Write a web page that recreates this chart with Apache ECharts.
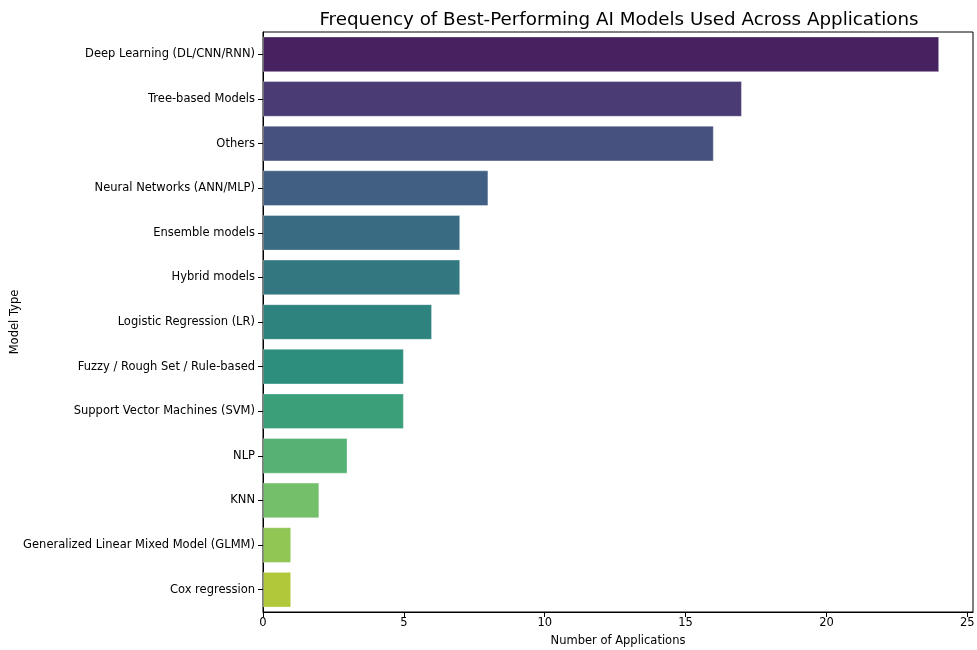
<!DOCTYPE html>
<html>
<head>
<meta charset="utf-8">
<script src="https://cdn.jsdelivr.net/npm/echarts@6/dist/echarts.min.js"></script>
<style>html,body{margin:0;padding:0;background:#fff}#c{width:977px;height:650px}</style>
</head>
<body>
<div id="c"></div>
<script>
const categories = [
  "Deep Learning (DL/CNN/RNN)",
  "Tree-based Models",
  "Others",
  "Neural Networks (ANN/MLP)",
  "Ensemble models",
  "Hybrid models",
  "Logistic Regression (LR)",
  "Fuzzy / Rough Set / Rule-based",
  "Support Vector Machines (SVM)",
  "NLP",
  "KNN",
  "Generalized Linear Mixed Model (GLMM)",
  "Cox regression"
];
const counts = [24, 17, 16, 8, 7, 7, 6, 5, 5, 3, 2, 1, 1];
const xTicks = [0, 5, 10, 15, 20, 25];
const xMax = 25.2;

// viridis samples (seaborn palette), desaturated like seaborn's default saturation 0.75
const viridisBase = [
  [0.282884,0.094955,0.417331],[0.275191,0.194905,0.496005],[0.243113,0.292092,0.538516],
  [0.206756,0.371758,0.553117],[0.175841,0.441290,0.557685],[0.147607,0.511733,0.557049],
  [0.127568,0.566949,0.550556],[0.119699,0.618490,0.536347],[0.166383,0.690856,0.496502],
  [0.274149,0.751988,0.436601],[0.412913,0.803041,0.357269],[0.575563,0.844566,0.256415],
  [0.762373,0.876424,0.137064]
];
function desat(c, p) {
  const [r,g,b] = c; const mx = Math.max(r,g,b), mn = Math.min(r,g,b);
  const L = (mx+mn)/2; const d = mx-mn;
  if (d === 0) return c;
  const S = L < 0.5 ? d/(mx+mn) : d/(2-mx-mn);
  const S2 = S*p;
  const d2 = L < 0.5 ? S2*2*L : S2*(2-2*L);
  const mn2 = L - d2/2;
  return c.map(v => mn2 + (v-mn)/d*d2);
}
const colors = viridisBase.map(c => {
  const o = desat(c, 0.75).map(v => Math.round(Math.max(0,Math.min(1,v))*255));
  return 'rgb(' + o.join(',') + ')';
});

const font = 'DejaVu Sans';
const fs = 11.5;
const chart = echarts.init(document.getElementById('c'), null, {renderer: 'canvas'});
chart.setOption({
  animation: false,
  backgroundColor: '#fff',
  title: {
    text: 'Frequency of Best-Performing AI Models Used Across Applications',
    left: 614, top: 6, textAlign: 'center',
    textStyle: {fontFamily: font, fontSize: 18.3, fontWeight: 'normal', color: '#000'}
  },
  grid: {
    left: 263, top: 32, right: 4, bottom: 38,
    containLabel: false, outerBoundsMode: 'none',
    show: true, borderColor: '#000', borderWidth: 1, backgroundColor: 'transparent'
  },
  xAxis: {
    type: 'value', min: 0, max: xMax,
    name: 'Number of Applications', nameLocation: 'middle', nameGap: 23, nameMoveOverlap: false,
    nameTextStyle: {fontFamily: font, fontSize: fs, color: '#000'},
    axisLine: {show: true, lineStyle: {color: '#000', width: 1}},
    axisTick: {show: true, length: 5, customValues: xTicks, lineStyle: {color: '#000'}},
    axisLabel: {fontFamily: font, fontSize: fs, color: '#000', margin: 5, customValues: xTicks},
    splitLine: {show: false}
  },
  yAxis: {
    type: 'category', data: categories, inverse: true,
    name: 'Model Type', nameLocation: 'middle', nameGap: 242, nameRotate: 90, nameMoveOverlap: false,
    nameTextStyle: {fontFamily: font, fontSize: fs, color: '#000'},
    axisLine: {show: true, lineStyle: {color: '#000', width: 1}},
    axisTick: {show: true, alignWithLabel: true, length: 5, lineStyle: {color: '#000'}},
    axisLabel: {fontFamily: font, fontSize: fs, color: '#000', margin: 8}
  },
  series: [{
    type: 'bar',
    data: counts.map((v, i) => ({value: v, itemStyle: {color: colors[i]}})),
    barCategoryGap: '20%',
    itemStyle: {borderColor: 'rgba(255,255,255,0.35)', borderWidth: 1}
  }]
});
</script>
</body>
</html>
